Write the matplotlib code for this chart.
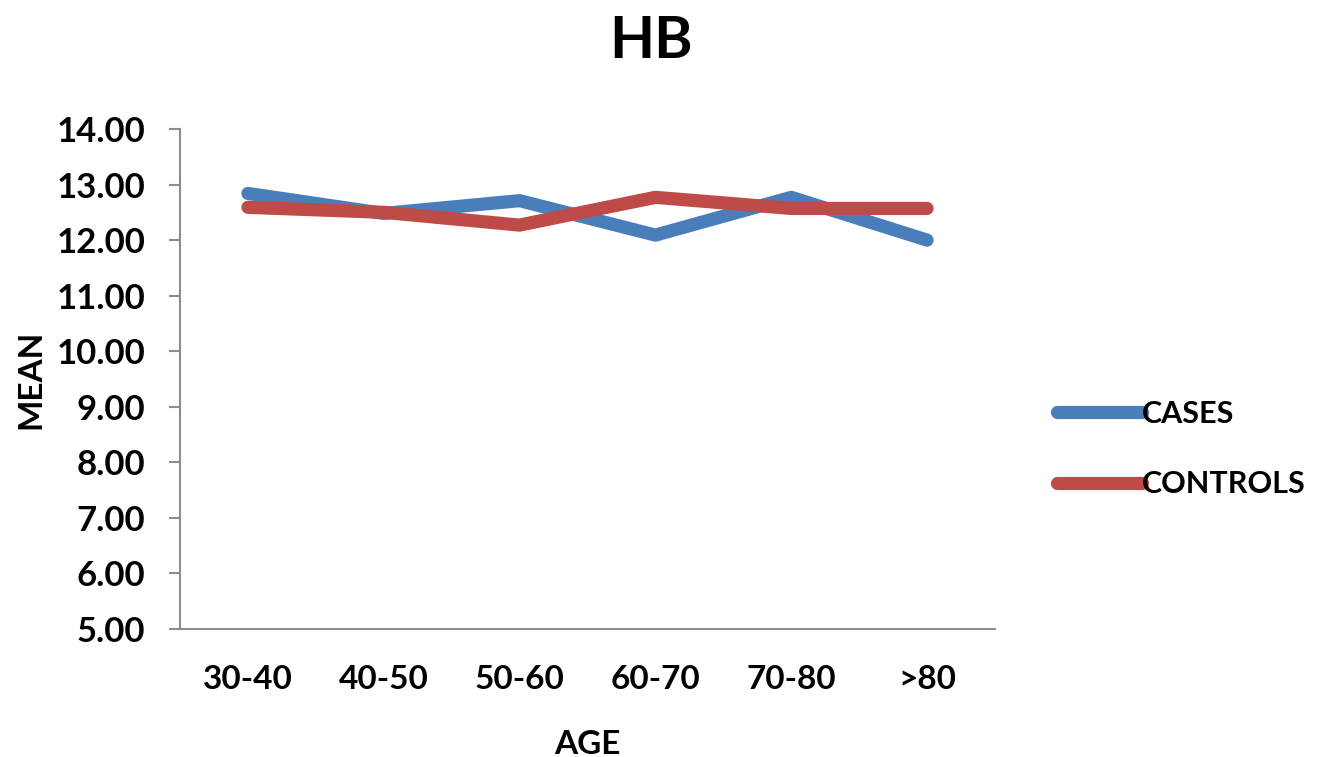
import numpy as np
import matplotlib.pyplot as plt

# Mean HB by age group
age_groups = ['30-40', '40-50', '50-60', '60-70', '70-80', '>80']
cases = [12.84, 12.48, 12.71, 12.09, 12.77, 12.00]
controls = [12.59, 12.50, 12.27, 12.77, 12.57, 12.57]

plt.rcParams['font.family'] = ['Lato', 'DejaVu Sans']
plt.rcParams['font.weight'] = 'bold'

fig = plt.figure(figsize=(13.33, 7.57), dpi=100)
ax = fig.add_axes([180/1333, 1 - 629/757, 815/1333, 500/757])

x = np.arange(len(age_groups))
ax.plot(x, cases, color='#4A7EBB', lw=9.5, solid_capstyle='round',
        solid_joinstyle='round', label='CASES')
ax.plot(x, controls, color='#BE4B48', lw=9.5, solid_capstyle='round',
        solid_joinstyle='round', label='CONTROLS')

ax.set_xlim(-0.5, len(age_groups) - 0.5)
ax.set_ylim(5, 14)
ax.set_yticks(np.arange(5, 15, 1))
ax.set_yticklabels([f'{v:.2f}' for v in np.arange(5, 15, 1)])
ax.set_xticks(x)
ax.set_xticklabels(age_groups)

for side in ['top', 'right']:
    ax.spines[side].set_visible(False)
for side in ['left', 'bottom']:
    ax.spines[side].set_color('#8C8C8C')
    ax.spines[side].set_linewidth(1.5)
ax.tick_params(axis='y', length=8, width=1.5, color='#8C8C8C', pad=17,
               labelsize=25)
ax.tick_params(axis='x', length=0, pad=26, labelsize=24)

ax.set_xlabel('AGE', fontsize=24, fontweight='bold', labelpad=26)
ax.set_ylabel('MEAN', fontsize=24, fontweight='bold', labelpad=8)
fig.text(651/1333, 1 - 42/757, 'HB', fontsize=42, fontweight='bold',
         ha='center', va='center')

ax.legend(loc='center left', bbox_to_anchor=(1.042, 0.36), frameon=False,
          fontsize=22, handlelength=2.8, handletextpad=0.0,
          labelspacing=1.4)

fig.savefig('out.png', dpi=100)
